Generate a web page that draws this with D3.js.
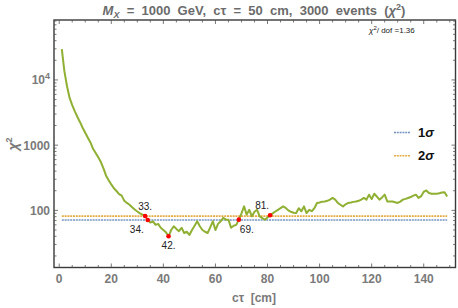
<!DOCTYPE html>
<html>
<head>
<meta charset="utf-8">
<script src="https://cdn.jsdelivr.net/npm/d3@7"></script>
<style>
  body { margin: 0; background: #fff; }
  svg { display: block; font-family: "Liberation Sans", Arial, sans-serif; }
</style>
</head>
<body>
<div id="chart"></div>
<script>
// chi2 scan vs c*tau
const ctValues = d3.range(1, 150);
const chi2Values = [
  29600, 13500, 8000, 5300, 4100, 3300, 2700, 2250, 1850, 1550,
  1300, 1100, 880, 760, 650, 550, 440, 340, 290, 250,
  218, 198, 178, 168, 140, 130, 122, 112, 103, 96,
  90, 86, 82, 71, 65, 68, 60, 62, 54, 50,
  46, 40, 50, 57, 52, 48, 54, 45, 47, 42,
  50, 58, 68, 57, 50, 47, 45, 55, 68, 50,
  62, 68, 77, 72, 72, 54, 58, 60, 72, 90,
  115, 86, 102, 81, 95, 102, 81, 76, 72, 78,
  84, 90, 96, 102, 108, 115, 109, 100, 95, 92,
  91, 108, 97, 115, 91, 102, 97, 108, 130, 132,
  136, 137, 140, 146, 155, 146, 130, 122, 115, 124,
  130, 132, 135, 137, 140, 146, 155, 146, 174, 149,
  180, 163, 146, 158, 174, 137, 137, 137, 133, 130,
  136, 146, 150, 155, 160, 168, 174, 155, 165, 193,
  202, 185, 180, 180, 180, 183, 188, 190, 163
];
const sigmaLabels = ["1σ", "2σ"];
const sigmaLevels = [71.3, 81.5];
const sigmaColors = ["#5E81B5", "#E19C24"];
const markedCt = [33, 34, 42, 69, 81];
const xTicks = [0, 20, 40, 60, 80, 100, 120, 140];
const yTicks = [100, 1000, 10000];

const W = 458, H = 308;
const L = 54, R = 455.5, T = 20, B = 267.5;

const svg = d3.select("#chart").append("svg")
  .attr("width", W).attr("height", H);

const x = d3.scaleLinear().domain([-2, 152.2]).range([L, R]);
const y = d3.scaleLog().domain([13.3, 83000]).range([B, T]);

const grey = "#6b6b6b";

// title
const title = svg.append("text")
  .attr("x", 254).attr("y", 15)
  .attr("text-anchor", "middle")
  .attr("font-size", 13).attr("font-weight", "bold").attr("fill", grey)
  .attr("xml:space", "preserve");
title.append("tspan").attr("font-style", "italic").text("M");
title.append("tspan").attr("font-style", "italic").attr("font-size", 9).attr("dy", 3).text("X");
title.append("tspan").attr("dy", -3).text("  =  1000  GeV,  cτ  =  50  cm,  3000  events  (");
title.append("tspan").attr("font-style", "italic").text("χ");
title.append("tspan").attr("font-size", 9).attr("dy", -5).text("2");
title.append("tspan").attr("dy", 5).text(")");

// sigma lines
sigmaLevels.forEach((lv, i) => {
  svg.append("line")
    .attr("x1", x(1)).attr("x2", x(149))
    .attr("y1", y(lv)).attr("y2", y(lv))
    .attr("stroke", sigmaColors[i]).attr("stroke-width", 1.6)
    .attr("stroke-opacity", 0.85)
    .attr("stroke-dasharray", "2,0.8");
});

// curve
const pts = ctValues.map((c, i) => [c, chi2Values[i]]);
svg.append("path")
  .datum(pts)
  .attr("fill", "none")
  .attr("stroke", "#8FB032").attr("stroke-width", 2)
  .attr("stroke-linejoin", "round")
  .attr("d", d3.line().x(d => x(d[0])).y(d => y(d[1])));

// marked crossings
const labelPos = {
  33: {dx: 0, dy: -6, anchor: "middle"},
  34: {dx: -4, dy: 13, anchor: "end"},
  42: {dx: 0, dy: 13, anchor: "middle"},
  69: {dx: 1, dy: 13, anchor: "start"},
  81: {dx: -1, dy: -6, anchor: "end"}
};
markedCt.forEach(c => {
  const v = chi2Values[ctValues.indexOf(c)];
  const px = x(c), py = y(v);
  svg.append("circle").attr("cx", px).attr("cy", py).attr("r", 2.3).attr("fill", "#ff0000");
  const p = labelPos[c];
  svg.append("text")
    .attr("x", px + p.dx).attr("y", py + p.dy)
    .attr("text-anchor", p.anchor)
    .attr("font-size", 10).attr("fill", "#222")
    .text(c + ".");
});

// frame
svg.append("rect")
  .attr("x", L).attr("y", T).attr("width", R - L).attr("height", B - T)
  .attr("fill", "none").attr("stroke", "#3a3a3a").attr("stroke-width", 1.4);

const tickG = svg.append("g").attr("stroke", "#555").attr("stroke-width", 0.8);
// x ticks (bottom and top, inward)
d3.range(0, 151, 5).forEach(t => {
  const len = t % 20 === 0 ? 4 : 2.5;
  tickG.append("line").attr("x1", x(t)).attr("x2", x(t)).attr("y1", B).attr("y2", B - len);
  tickG.append("line").attr("x1", x(t)).attr("x2", x(t)).attr("y1", T).attr("y2", T + len);
});
// y ticks, log minor
const [y0, y1] = y.domain();
for (let dec = 10; dec <= 10000; dec *= 10) {
  for (let m = 1; m < 10; m++) {
    const v = dec * m;
    if (v < y0 || v > y1) continue;
    const len = m === 1 ? 4 : 2.5;
    tickG.append("line").attr("x1", L).attr("x2", L + len).attr("y1", y(v)).attr("y2", y(v));
    tickG.append("line").attr("x1", R).attr("x2", R - len).attr("y1", y(v)).attr("y2", y(v));
  }
}

// x tick labels
svg.append("g").selectAll("text").data(xTicks).join("text")
  .attr("x", d => x(d)).attr("y", 283)
  .attr("text-anchor", "middle")
  .attr("font-size", 12).attr("font-weight", "bold").attr("fill", "#7a7a7a")
  .text(d => d);

// y tick labels
yTicks.forEach(v => {
  const t = svg.append("text")
    .attr("x", 50).attr("y", y(v) + 4.5)
    .attr("text-anchor", "end")
    .attr("font-size", 12).attr("font-weight", "bold").attr("fill", "#7a7a7a");
  if (v === 10000) {
    t.append("tspan").text("10");
    t.append("tspan").attr("font-size", 9).attr("dy", -5).text("4");
  } else {
    t.text(v);
  }
});

// axis titles
svg.append("text")
  .attr("x", 254).attr("y", 302)
  .attr("text-anchor", "middle")
  .attr("font-size", 12).attr("font-weight", "bold").attr("fill", "#7a7a7a")
  .attr("xml:space", "preserve")
  .text("cτ  [cm]");

const yl = svg.append("text")
  .attr("transform", "translate(18,144) rotate(-90)")
  .attr("text-anchor", "middle")
  .attr("font-size", 14).attr("font-weight", "bold").attr("fill", "#7a7a7a");
yl.append("tspan").attr("font-style", "italic").text("χ");
yl.append("tspan").attr("font-size", 9).attr("dy", -6).text("2");

// chi2/dof annotation
const ann = svg.append("text")
  .attr("x", 369).attr("y", 33)
  .attr("font-size", 8).attr("fill", "#222");
ann.append("tspan").attr("font-style", "italic").text("χ");
ann.append("tspan").attr("font-size", 6).attr("dy", -3).text("2");
ann.append("tspan").attr("dy", 3).text("/ dof =1.36");

// legend
sigmaLabels.forEach((lab, i) => {
  const ly = 132.5 + i * 23.2;
  svg.append("line")
    .attr("x1", 394).attr("x2", 410).attr("y1", ly).attr("y2", ly)
    .attr("stroke", sigmaColors[i]).attr("stroke-width", 1.6)
    .attr("stroke-opacity", 0.85)
    .attr("stroke-dasharray", "2,0.8");
  const t = svg.append("text")
    .attr("x", 418).attr("y", ly + 4.5)
    .attr("font-size", 13).attr("fill", "#111");
  t.append("tspan").attr("font-weight", "bold").text(lab[0]);
  t.append("tspan").attr("font-style", "italic").attr("font-weight", "bold").text(lab[1]);
});
</script>
</body>
</html>
